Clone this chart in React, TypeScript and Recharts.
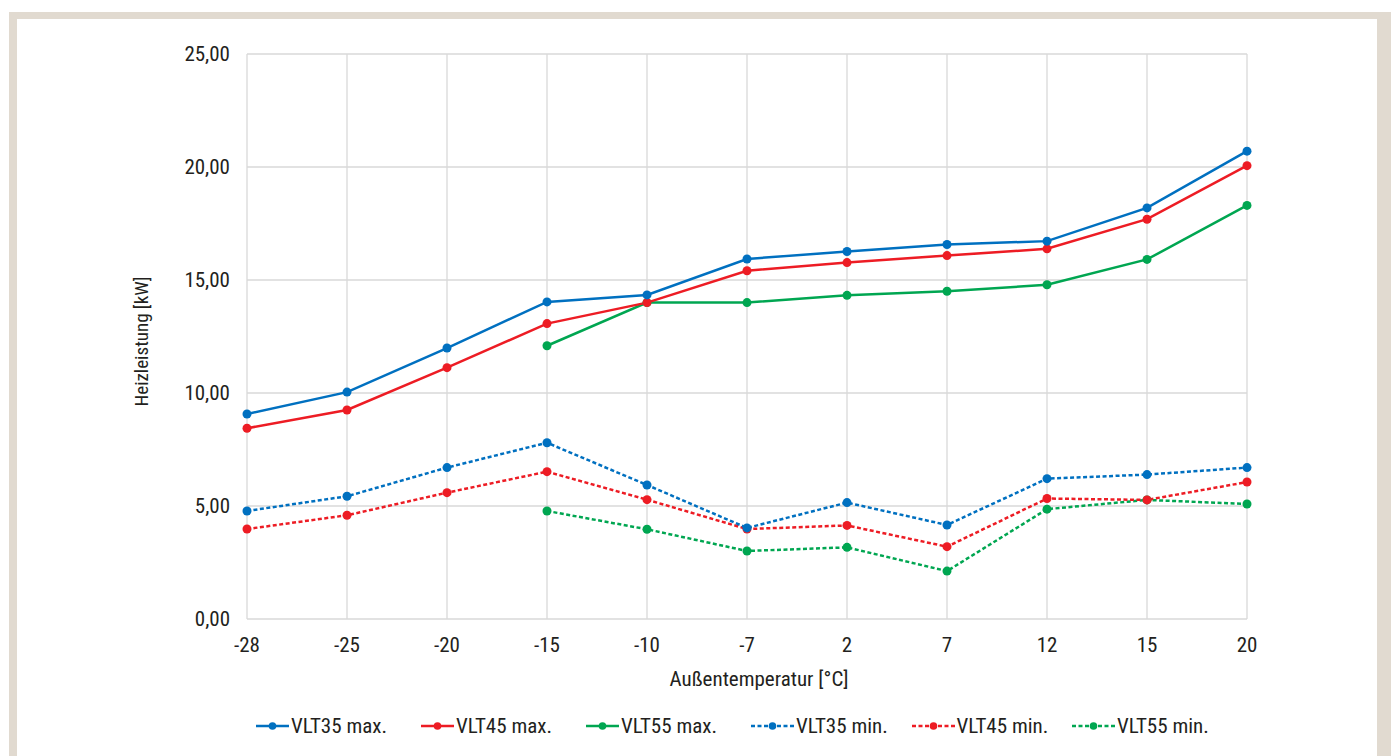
import { LineChart, Line, XAxis, YAxis, CartesianGrid, Legend } from "recharts";

// Außentemperatur [°C]
const temperatures = ["-28", "-25", "-20", "-15", "-10", "-7", "2", "7", "12", "15", "20"];

// Heizleistung [kW]
const vlt35Max = [9.07, 10.04, 11.99, 14.03, 14.34, 15.93, 16.26, 16.57, 16.72, 18.19, 20.7];
const vlt45Max = [8.44, 9.25, 11.12, 13.07, 14.0, 15.41, 15.77, 16.08, 16.38, 17.69, 20.06];
const vlt55Max = [null, null, null, 12.09, 14.0, 14.0, 14.32, 14.5, 14.79, 15.91, 18.3];
const vlt35Min = [4.78, 5.43, 6.7, 7.8, 5.93, 4.03, 5.15, 4.16, 6.21, 6.39, 6.7];
const vlt45Min = [3.98, 4.59, 5.59, 6.52, 5.28, 3.98, 4.14, 3.2, 5.33, 5.27, 6.06];
const vlt55Min = [null, null, null, 4.78, 3.97, 3.01, 3.17, 2.12, 4.86, 5.27, 5.09];

const yTicks = [0, 5, 10, 15, 20, 25];

const BLUE = "#0070C0";
const RED = "#ED1C24";
const GREEN = "#00A651";
const TEXT = "#231F20";
const GRID = "#D9D9D9";
const FONT = "'Liberation Sans Narrow', 'Roboto Condensed', 'DejaVu Sans Condensed', Roboto, sans-serif";

const series = [
  { key: "vlt35Max", name: "VLT35 max.", color: BLUE, dashed: false, values: vlt35Max },
  { key: "vlt45Max", name: "VLT45 max.", color: RED, dashed: false, values: vlt45Max },
  { key: "vlt55Max", name: "VLT55 max.", color: GREEN, dashed: false, values: vlt55Max },
  { key: "vlt35Min", name: "VLT35 min.", color: BLUE, dashed: true, values: vlt35Min },
  { key: "vlt45Min", name: "VLT45 min.", color: RED, dashed: true, values: vlt45Min },
  { key: "vlt55Min", name: "VLT55 min.", color: GREEN, dashed: true, values: vlt55Min },
];

const data = temperatures.map((t, i) => {
  const row: Record<string, string | number | null> = { temp: t };
  series.forEach((s) => (row[s.key] = s.values[i]));
  return row;
});

// draw order: green under red under blue
const drawOrder = ["vlt55Min", "vlt45Min", "vlt35Min", "vlt55Max", "vlt45Max", "vlt35Max"];

const fmt = (v: number) => v.toFixed(2).replace(".", ",");

const LegendContent = () => (
  <div style={{ display: "flex", paddingLeft: 256, color: TEXT, fontSize: 21, fontFamily: FONT }}>
    {series.map((s) => {
      const w = s.dashed ? 43 : 33;
      return (
        <div key={s.key} style={{ display: "flex", alignItems: "center", width: s.dashed ? 160.5 : 165 }}>
          <svg width={w} height={12} style={{ marginRight: 2 }}>
            <line
              x1={0}
              x2={w}
              y1={6}
              y2={6}
              stroke={s.color}
              strokeWidth={2.5}
              strokeDasharray={s.dashed ? "4 2.5" : undefined}
            />
            <circle cx={w / 2} cy={6} r={3.8} fill={s.color} />
          </svg>
          <span>{s.name}</span>
        </div>
      );
    })}
  </div>
);

export default function App() {
  return (
    <div style={{ position: "absolute", left: 0, top: 0, width: 1391, height: 756, overflow: "hidden", background: "#fff", fontFamily: FONT }}>
      <div style={{ position: "absolute", left: 9, top: 12, right: 0, bottom: 0, background: "#E1DAD0" }} />
      <div style={{ position: "absolute", left: 17, top: 19, width: 1360, bottom: 0, background: "#fff" }} />
      <div style={{ position: "absolute", left: 0, top: 0 }}>
        <LineChart width={1391} height={756} data={data} margin={{ top: 54, right: 144, bottom: 77, left: 137 }}>
          <CartesianGrid stroke={GRID} strokeWidth={1.3} />
          <XAxis
            dataKey="temp"
            interval={0}
            height={60}
            axisLine={false}
            tickLine={false}
            tickSize={0}
            tickMargin={18}
            tick={{ fill: TEXT, fontSize: 21 }}
            label={{
              content: ({ viewBox }: any) => (
                <text
                  x={viewBox.x + viewBox.width / 2 + 12}
                  y={viewBox.y + 67}
                  textAnchor="middle"
                  fill={TEXT}
                  fontSize={21}
                >
                  Außentemperatur [°C]
                </text>
              ),
            }}
          />
          <YAxis
            width={110}
            domain={[0, 25]}
            ticks={yTicks}
            tickFormatter={fmt}
            axisLine={false}
            tickLine={false}
            tickSize={0}
            tickMargin={17}
            tick={{ fill: TEXT, fontSize: 21 }}
            label={{
              content: ({ viewBox }: any) => {
                const x = viewBox.x + 11;
                const y = viewBox.y + viewBox.height / 2 + 5;
                return (
                  <text x={x} y={y} transform={`rotate(-90 ${x} ${y})`} textAnchor="middle" fill={TEXT} fontSize={19}>
                    Heizleistung [kW]
                  </text>
                );
              },
            }}
          />
          <Legend
            verticalAlign="middle"
            align="center"
            layout="horizontal"
            content={<LegendContent />}
            wrapperStyle={{ top: 714, left: 0, width: 1391 }}
          />
          {drawOrder.map((k) => {
            const s = series.find((x) => x.key === k)!;
            return (
              <Line
                key={s.key}
                dataKey={s.key}
                name={s.name}
                stroke={s.color}
                strokeWidth={2.5}
                strokeDasharray={s.dashed ? "4 2.5" : undefined}
                dot={{ r: 4.5, fill: s.color, stroke: "none", strokeDasharray: "" }}
                activeDot={false}
                isAnimationActive={false}
              />
            );
          })}
        </LineChart>
      </div>
    </div>
  );
}
